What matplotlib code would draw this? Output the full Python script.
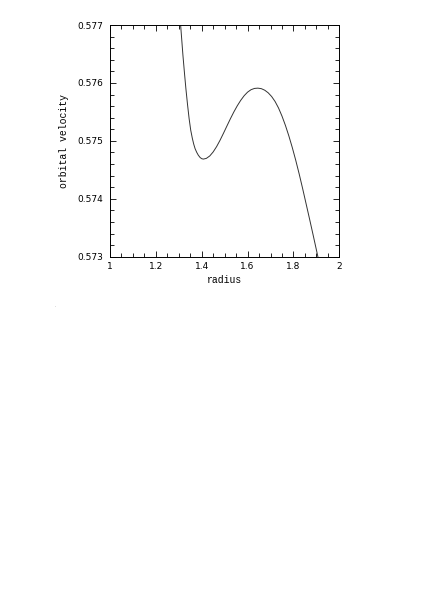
import matplotlib
matplotlib.use("Agg")
import matplotlib.pyplot as plt
import matplotlib.ticker as ticker

# Valores
radius = [1.308, 1.318, 1.325, 1.331, 1.338, 1.345, 1.352, 1.359, 1.365,
          1.371, 1.378, 1.385, 1.393, 1.400, 1.407, 1.420, 1.435, 1.450,
          1.465, 1.480, 1.495, 1.510, 1.525, 1.540, 1.555, 1.570, 1.585,
          1.600, 1.615, 1.630, 1.645, 1.660, 1.675, 1.690, 1.705, 1.720,
          1.735, 1.750, 1.765, 1.780, 1.795, 1.810, 1.825, 1.840, 1.855,
          1.870, 1.885, 1.900, 1.9066]
velocity = [0.57700, 0.57648, 0.57616, 0.57590, 0.57563, 0.575385,
            0.575185, 0.575045, 0.574945, 0.574866, 0.574803, 0.574753,
            0.574712, 0.574692, 0.574685, 0.574697, 0.574739, 0.574809,
            0.574901, 0.575011, 0.575132, 0.575257, 0.575381, 0.575498,
            0.575605, 0.575699, 0.575779, 0.575841, 0.575883, 0.575905,
            0.575910, 0.575901, 0.575874, 0.575829, 0.575765, 0.575679,
            0.575567, 0.575428, 0.575267, 0.575085, 0.574884, 0.574665,
            0.574429, 0.574178, 0.573917, 0.573656, 0.573390, 0.573120,
            0.573000]

xticks = [1, 1.2, 1.4, 1.6, 1.8, 2]
xlabels = ["1", "1.2", "1.4", "1.6", "1.8", "2"]
yticks = [0.573, 0.574, 0.575, 0.576, 0.577]
ylabels = ["0.573", "0.574", "0.575", "0.576", "0.577"]

fig = plt.figure(figsize=(4.36, 6.16), dpi=100)
ax = fig.add_axes([0.2523, 0.5833, 0.5259, 0.3761])

ax.plot(radius, velocity, color="#333333", linewidth=0.7)

ax.set_xlim(1, 2)
ax.set_ylim(0.573, 0.577)

ax.set_xticks(xticks)
ax.set_xticklabels(xlabels)
ax.set_yticks(yticks)
ax.set_yticklabels(ylabels)
ax.xaxis.set_minor_locator(ticker.MultipleLocator(0.05))
ax.yaxis.set_minor_locator(ticker.MultipleLocator(0.0002))

# Ticks hacia adentro en los cuatro lados
ax.tick_params(which="both", direction="in", top=True, right=True,
               width=0.6, labelsize=6.5, colors="black")
ax.tick_params(which="major", length=4.5)
ax.tick_params(which="minor", length=2.8)
ax.tick_params(axis="x", pad=4)
ax.tick_params(axis="y", pad=5)

for s in ax.spines.values():
    s.set_linewidth(0.7)

ax.set_xlabel("radius", fontsize=7, family="Liberation Mono", labelpad=2.5)
ax.set_ylabel("orbital velocity", fontsize=7, family="Liberation Mono", labelpad=6)

fig.text(55 / 436, 1 - 307 / 616, ".", fontsize=3, color="#555555")

plt.savefig("out.png", dpi=100)
